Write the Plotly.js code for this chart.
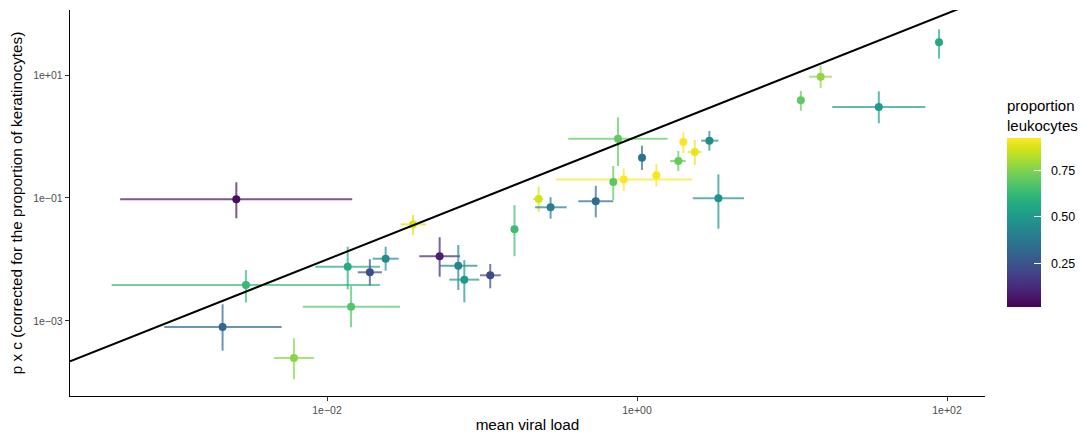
<!DOCTYPE html>
<html>
<head>
<meta charset="utf-8">
<script src="https://cdn.plot.ly/plotly-3.0.1.min.js"></script>
<style>html,body{margin:0;padding:0;background:#fff}#chart{width:1083px;height:435px}</style>
</head>
<body>
<div id="chart"></div>
<script>
// mean viral load (x) with lower/upper bounds
var viralLoad = [0.0026, 0.0030, 0.00212, 0.00612, 0.0143, 0.0136, 0.0189, 0.0239, 0.0359, 0.0533, 0.0703, 0.0769, 0.113, 0.162, 0.232, 0.277, 0.542, 0.703, 0.821, 0.754, 1.077, 1.333, 1.847, 1.99, 2.36, 2.93, 3.35, 11.4, 15.3, 36.3, 88.8];
var viralLow  = [0.000463, 0.000408, 0.000891, 0.00455, 0.00697, 0.00841, 0.0158, 0.0197, 0.0299, 0.0394, 0.0536, 0.0615, 0.0971, 0.157, 0.213, 0.220, 0.418, 0.670, 0.299, 0.360, 1.046, 1.30, 1.633, 1.95, 2.13, 2.59, 2.29, 11.1, 12.9, 18.2, 86.5];
var viralHigh = [0.01455, 0.0220, 0.0051, 0.00824, 0.0296, 0.0220, 0.0226, 0.0290, 0.0435, 0.0721, 0.0933, 0.0961, 0.132, 0.167, 0.249, 0.352, 0.703, 0.743, 2.27, 1.578, 1.11, 1.37, 2.061, 2.03, 2.61, 3.35, 4.90, 11.7, 18.1, 72.4, 91.2];
// p x c (corrected for the proportion of keratinocytes) with lower/upper bounds
var pxc     = [0.0953, 0.00385, 0.000798, 0.000250, 0.00171, 0.00764, 0.00619, 0.0103, 0.0373, 0.0113, 0.00793, 0.00470, 0.00553, 0.0310, 0.0963, 0.0706, 0.0883, 0.182, 0.199, 0.920, 0.452, 0.234, 0.400, 0.815, 0.560, 0.855, 0.0989, 3.88, 9.38, 3.02, 34.0];
var pxcLow  = [0.0468, 0.00199, 0.000329, 0.000113, 0.000791, 0.00327, 0.00380, 0.00658, 0.0250, 0.00525, 0.00319, 0.00201, 0.00340, 0.0113, 0.0598, 0.0461, 0.0485, 0.0928, 0.130, 0.331, 0.285, 0.153, 0.275, 0.533, 0.344, 0.587, 0.0317, 2.63, 6.15, 1.64, 18.4];
var pxcHigh = [0.180, 0.00675, 0.00187, 0.000524, 0.00371, 0.0161, 0.0101, 0.0161, 0.0530, 0.0230, 0.0172, 0.00982, 0.00845, 0.0764, 0.153, 0.103, 0.158, 0.331, 0.304, 2.05, 0.708, 0.357, 0.581, 1.17, 0.877, 1.23, 0.243, 5.50, 14.2, 5.43, 55.3];
// proportion leukocytes
var propLeuko = [0.05, 0.63, 0.32, 0.76, 0.68, 0.57, 0.23, 0.46, 0.87, 0.10, 0.43, 0.50, 0.22, 0.64, 0.86, 0.40, 0.34, 0.69, 0.92, 0.70, 0.36, 0.91, 0.71, 0.91, 0.89, 0.46, 0.47, 0.70, 0.77, 0.51, 0.56];

var xTickVals = [0.01, 1, 100];
var xTickText = ["1e\u221202", "1e+00", "1e+02"];
var yTickVals = [0.001, 0.1, 10];
var yTickText = ["1e\u221203", "1e\u221201", "1e+01"];
var cbTickVals = [0.25, 0.5, 0.75];
var cbTickText = ["0.25", "0.50", "0.75"];

var cMin = 0.02, cMax = 0.92;
var xRangeLog = [-3.658, 2.245];
var yRangeLog = [-4.22, 2.057];

var viridis = [
 [0,'#440154'],[0.0627,'#48186a'],[0.1255,'#472d7b'],[0.1882,'#424086'],[0.2510,'#3b528b'],
 [0.3137,'#33638d'],[0.3765,'#2c728e'],[0.4392,'#26828e'],[0.5020,'#21918c'],[0.5647,'#1fa088'],
 [0.6275,'#28ae80'],[0.6902,'#3fbc73'],[0.7529,'#5ec962'],[0.8157,'#84d44b'],[0.8784,'#addc30'],
 [0.9412,'#d8e219'],[1,'#fde725']];
function hex2rgb(h){return [parseInt(h.substr(1,2),16),parseInt(h.substr(3,2),16),parseInt(h.substr(5,2),16)];}
function colorFor(v, alpha){
  var t = Math.max(0, Math.min(1, (v - cMin) / (cMax - cMin)));
  for (var i = 1; i < viridis.length; i++) {
    if (t <= viridis[i][0]) {
      var a = viridis[i-1], b = viridis[i];
      var f = (t - a[0]) / (b[0] - a[0]);
      var ca = hex2rgb(a[1]), cb = hex2rgb(b[1]);
      var c = [0,1,2].map(function(k){return Math.round(ca[k] + f*(cb[k]-ca[k]));});
      return 'rgba(' + c[0] + ',' + c[1] + ',' + c[2] + ',' + alpha + ')';
    }
  }
  return 'rgba(253,231,37,' + alpha + ')';
}

var traces = [];
for (var i = 0; i < viralLoad.length; i++) {
  var col = colorFor(propLeuko[i], 0.7);
  traces.push({
    type: 'scatter', mode: 'markers',
    x: [viralLoad[i]], y: [pxc[i]],
    marker: {size: 1, opacity: 0},
    error_x: {type: 'data', symmetric: false, array: [viralHigh[i] - viralLoad[i]], arrayminus: [viralLoad[i] - viralLow[i]], color: col, thickness: 2, width: 0},
    error_y: {type: 'data', symmetric: false, array: [pxcHigh[i] - pxc[i]], arrayminus: [pxc[i] - pxcLow[i]], color: col, thickness: 2, width: 0},
    hoverinfo: 'skip', showlegend: false
  });
}
traces.push({
  type: 'scatter', mode: 'markers',
  x: viralLoad, y: pxc,
  marker: {
    size: 8, color: propLeuko, cmin: cMin, cmax: cMax, colorscale: viridis,
    line: {width: 0},
    colorbar: {
      title: {text: 'proportion<br>leukocytes', side: 'top', font: {family: 'Liberation Sans, Arial, sans-serif', size: 15, color: '#000'}},
      thickness: 34, len: 210, lenmode: 'pixels',
      x: 1.024, xanchor: 'left', y: 0.231, yanchor: 'bottom',
      outlinewidth: 0, tickvals: cbTickVals,
      ticktext: cbTickText.map(function(s){return '\u00a0\u00a0' + s;}),
      ticks: 'inside', ticklen: 7, tickcolor: '#ffffff', tickwidth: 1,
      tickfont: {family: 'Liberation Sans, Arial, sans-serif', size: 12.5, color: '#000'},
      xpad: 0, ypad: 0
    }
  },
  showlegend: false
});
// identity line y = x across the whole axis range
var lineX = [Math.pow(10, xRangeLog[0]), Math.pow(10, xRangeLog[1])];
traces.push({
  type: 'scatter', mode: 'lines', x: lineX, y: lineX,
  line: {color: '#000', width: 2}, hoverinfo: 'skip', showlegend: false, cliponaxis: true
});

var layout = {
  width: 1083, height: 435,
  margin: {l: 70, r: 98, t: 10, b: 39, autoexpand: false},
  paper_bgcolor: '#fff', plot_bgcolor: '#fff',
  font: {family: 'Liberation Sans, Arial, sans-serif'},
  xaxis: {
    type: 'log', range: xRangeLog, tickvals: xTickVals, ticktext: xTickText,
    showgrid: false, zeroline: false, showline: true, linecolor: '#000', linewidth: 1.2,
    ticks: 'outside', ticklen: 4, tickcolor: '#333', tickwidth: 1,
    tickfont: {size: 10.5, color: '#4d4d4d'},
    title: {text: 'mean viral load', font: {size: 15.3, color: '#000'}, standoff: 4}
  },
  yaxis: {
    type: 'log', range: yRangeLog, tickvals: yTickVals, ticktext: yTickText,
    showgrid: false, zeroline: false, showline: true, linecolor: '#000', linewidth: 1.2,
    ticks: 'outside', ticklen: 4, tickcolor: '#333', tickwidth: 1,
    tickfont: {size: 10.5, color: '#4d4d4d'},
    title: {text: 'p x c (corrected for the proportion of keratinocytes)', font: {size: 15.3, color: '#000'}, standoff: 6}
  }
};
Plotly.newPlot('chart', traces, layout, {displayModeBar: false, staticPlot: true});
</script>
</body>
</html>
